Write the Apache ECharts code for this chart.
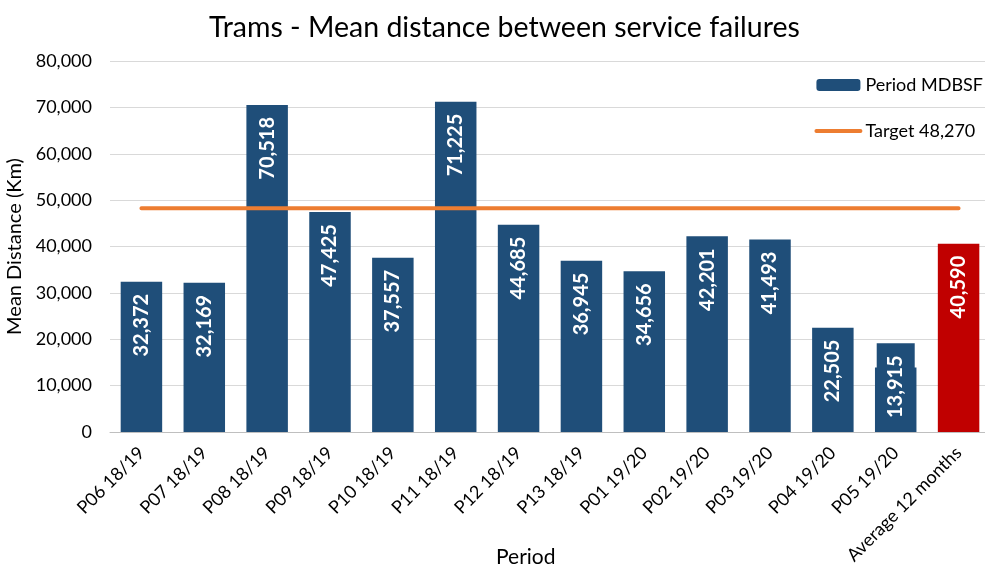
<!DOCTYPE html>
<html>
<head>
<meta charset="utf-8">
<script src="https://cdn.jsdelivr.net/npm/echarts@6/dist/echarts.min.js"></script>
<style>
  html, body { margin: 0; padding: 0; background: #fff; }
  #main { width: 985px; height: 569px; }
</style>
</head>
<body>
<div id="main"></div>
<script>
// data
const periods = ['P06 18/19', 'P07 18/19', 'P08 18/19', 'P09 18/19', 'P10 18/19', 'P11 18/19',
  'P12 18/19', 'P13 18/19', 'P01 19/20', 'P02 19/20', 'P03 19/20', 'P04 19/20', 'P05 19/20',
  'Average 12 months'];
const mdbsf = [32372, 32169, 70518, 47425, 37557, 71225, 44685, 36945, 34656, 42201, 41493, 22505, 13915, 40590];
const target = 48270;
const yTicks = [0, 10000, 20000, 30000, 40000, 50000, 60000, 70000, 80000];

const BLUE = '#1F4E79';
const RED = '#C00000';
const ORANGE = '#ED7D31';
const FONT = 'Lato';

const fmt = v => v.toLocaleString('en-US');

const barData = mdbsf.map((v, i) => {
  const item = { value: v };
  if (i === mdbsf.length - 1) {
    item.itemStyle = { color: RED };
  }
  // short bar: label overflows with a blue box, like the original
  if (v < 20000) {
    item.label = {
      position: 'insideBottom',
      align: 'left',
      distance: 0,
      backgroundColor: BLUE,
      padding: [9, 12, 9, 14]
    };
  }
  return item;
});

const chart = echarts.init(document.getElementById('main'));
chart.setOption({
  animation: false,
  textStyle: { fontFamily: FONT },
  title: {
    text: 'Trams - Mean distance between service failures',
    left: 204,
    top: 8,
    textStyle: { fontFamily: FONT, fontSize: 28.5, fontWeight: 'normal', color: '#000' }
  },
  legend: {
    orient: 'vertical',
    right: -3,
    top: 71,
    itemGap: 28,
    itemWidth: 44,
    itemHeight: 12,
    textStyle: { fontFamily: FONT, fontSize: 18, color: '#000' },
    data: [
      'Period MDBSF',
      {
        name: 'Target 48,270',
        itemStyle: { opacity: 0 },
        lineStyle: { width: 4, cap: 'round', color: ORANGE }
      }
    ]
  },
  grid: { left: 110, top: 61, width: 880, height: 371, containLabel: false, outerBoundsMode: 'none' },
  xAxis: {
    type: 'category',
    data: periods,
    axisTick: { show: false },
    axisLine: { lineStyle: { color: '#BFBFBF', width: 1 } },
    axisLabel: { rotate: 45, fontSize: 18, color: '#000', margin: 18, interval: 0 }
  },
  yAxis: {
    type: 'value',
    min: yTicks[0],
    max: yTicks[yTicks.length - 1],
    interval: yTicks[1] - yTicks[0],
    name: 'Mean Distance (Km)',
    nameLocation: 'middle',
    nameGap: 83,
    nameTextStyle: { fontSize: 20, color: '#000' },
    axisLine: { show: false },
    axisTick: { show: false },
    axisLabel: { fontSize: 18, color: '#000', margin: 18, formatter: v => fmt(v) },
    splitLine: { lineStyle: { color: '#D9D9D9', width: 1 } }
  },
  graphic: [{
    type: 'text',
    left: 496,
    top: 547,
    style: { text: 'Period', fontFamily: FONT, fontSize: 21, fill: '#000' }
  }],
  series: [
    {
      name: 'Period MDBSF',
      type: 'bar',
      data: barData,
      barCategoryGap: '34%',
      itemStyle: { color: BLUE },
      label: {
        show: true,
        position: 'insideTop',
        rotate: 90,
        align: 'right',
        verticalAlign: 'middle',
        distance: 12,
        color: '#fff',
        fontFamily: FONT,
        fontWeight: 'bold',
        fontSize: 20,
        formatter: p => fmt(p.value)
      }
    },
    {
      name: 'Target 48,270',
      type: 'line',
      data: periods.map(() => target),
      symbol: 'none',
      lineStyle: { color: ORANGE, width: 4, cap: 'round' },
      itemStyle: { color: ORANGE },
      z: 5
    }
  ]
});
</script>
</body>
</html>
